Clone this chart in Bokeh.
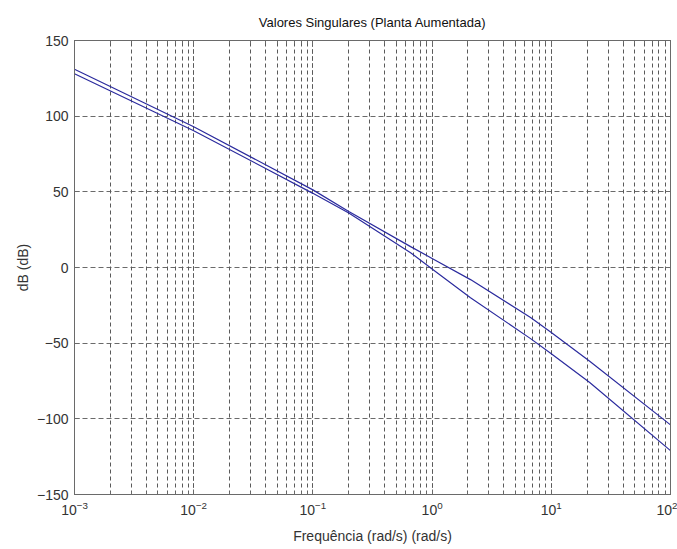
from bokeh.plotting import figure
from bokeh.models import LogAxis, LinearAxis, FixedTicker, LogTicker, Range1d, ColumnDataSource
from bokeh.embed import file_html
from bokeh.resources import INLINE

# frequencies (rad/s) and singular values (dB)
freq = [0.001, 0.01, 0.1, 0.2, 0.66, 1.0, 2.1, 6.7, 10.0, 21.0, 100.0]
sv_max = [131.0, 93.0, 51.3, 37.0, 13.8, 6.0, -8.0, -33.0, -43.0, -62.0, -104.0]
sv_min = [128.0, 90.4, 49.0, 36.0, 9.8, -1.0, -20.0, -47.0, -57.0, -76.0, -121.0]

y_ticks = [-150, -100, -50, 0, 50, 100, 150]
title_text = "Valores Singulares (Planta Aumentada)"
x_label = "Frequência (rad/s) (rad/s)"
y_label = "dB (dB)"

FONT = "Liberation Sans"
LINE_COLOR = "#2b2b9e"
GRID_COLOR = "#5a5a5a"
AXIS_COLOR = "#6a6a6a"
TEXT_COLOR = "#333333"

p = figure(width=677, height=549, x_axis_type="log",
           x_range=Range1d(1e-3, 1e2), y_range=Range1d(-150, 150),
           output_backend="svg", toolbar_location=None,
           min_border_left=74, min_border_right=7, min_border_top=40, min_border_bottom=55)

p.title.text = title_text
p.title.align = "center"
p.title.text_font = FONT
p.title.text_font_size = "13px"
p.title.text_font_style = "normal"
p.title.text_color = "#111111"
p.title.standoff = 22

src = ColumnDataSource(dict(f=freq, smax=sv_max, smin=sv_min))
p.line("f", "smax", source=src, line_color=LINE_COLOR, line_width=1.2)
p.line("f", "smin", source=src, line_color=LINE_COLOR, line_width=1.2)

xt = LogTicker(num_minor_ticks=10)
yt = FixedTicker(ticks=y_ticks)

xa = p.xaxis[0]
xa.ticker = xt
ya = p.yaxis[0]
ya.ticker = yt

for ax in (xa, ya):
    ax.axis_line_color = AXIS_COLOR
    ax.major_tick_line_color = AXIS_COLOR
    ax.minor_tick_line_color = AXIS_COLOR
    ax.major_tick_in = 5
    ax.major_tick_out = 0
    ax.minor_tick_in = 3
    ax.minor_tick_out = 0
    ax.major_label_text_font = FONT
    ax.major_label_text_font_size = "14px"
    ax.major_label_text_color = TEXT_COLOR
    ax.axis_label_text_font = FONT
    ax.axis_label_text_font_size = "14px"
    ax.axis_label_text_font_style = "normal"
    ax.axis_label_text_color = TEXT_COLOR

xa.axis_label = x_label
ya.axis_label = y_label
xa.major_label_standoff = 6
xa.axis_label_standoff = 10
ya.major_label_standoff = 6
ya.axis_label_standoff = 3

top = LinearAxis(ticker=xt, major_label_text_color=None, major_label_text_font_size="1px",
                 axis_line_color=AXIS_COLOR,
                 major_tick_in=5, major_tick_out=0, minor_tick_in=3, minor_tick_out=0,
                 major_tick_line_color=AXIS_COLOR, minor_tick_line_color=AXIS_COLOR,
                 major_label_standoff=0)
right = LinearAxis(ticker=yt, major_label_text_color=None, major_label_text_font_size="1px",
                   axis_line_color=AXIS_COLOR,
                   major_tick_in=5, major_tick_out=0, minor_tick_in=0, minor_tick_out=0,
                   major_tick_line_color=AXIS_COLOR, major_label_standoff=0)
p.add_layout(top, "above")
p.add_layout(right, "right")

p.xgrid.ticker = xt
p.ygrid.ticker = yt
p.xgrid.grid_line_color = GRID_COLOR
p.xgrid.grid_line_dash = "4 3"
p.xgrid.minor_grid_line_color = GRID_COLOR
p.xgrid.minor_grid_line_dash = "4 3"
p.ygrid.grid_line_color = GRID_COLOR
p.ygrid.grid_line_dash = "5 3"
p.xgrid.grid_line_alpha = 0.9
p.ygrid.grid_line_alpha = 0.9

p.outline_line_color = AXIS_COLOR
p.background_fill_color = "white"
p.border_fill_color = "white"

open("out.html", "w").write(file_html(p, INLINE))
